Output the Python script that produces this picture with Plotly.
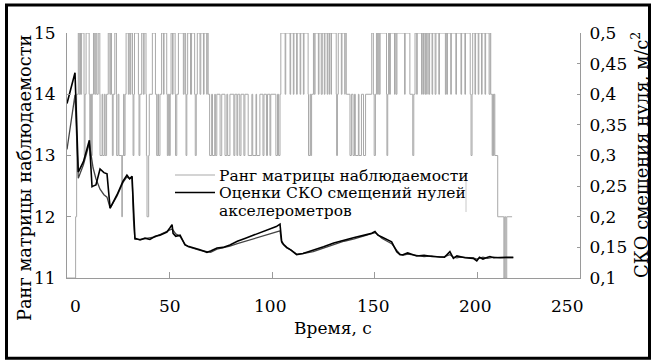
import plotly.graph_objects as go

# ---------------- data ----------------
# Rank of observability matrix (step series)
rank_t = [0.0, 4.2, 4.7, 5.5, 5.9, 6.3, 6.6, 7.1, 8.3, 8.4, 8.8, 9.3, 10.8, 11.1, 11.5, 12.0, 12.3, 12.9,
          13.5, 14.0, 14.5, 15.2, 16.0, 16.1, 17.1, 17.4, 18.2, 18.6, 19.3, 20.1, 20.9, 21.3, 21.7, 22.1,
          22.5, 23.3, 24.1, 24.2, 24.9, 25.3, 26.7, 27.0, 27.6, 27.8, 28.3, 28.8, 29.9, 30.3, 30.8, 31.1,
          31.9, 32.2, 32.6, 32.9, 34.8, 35.1, 35.5, 36.4, 37.2, 37.6, 38.5, 38.7, 39.0, 39.8, 40.1, 41.6,
          43.1, 43.7, 44.3, 44.6, 45.3, 46.1, 47.0, 47.3, 48.6, 48.9, 49.4, 49.9, 50.3, 50.7, 51.4, 51.7,
          52.7, 52.9, 53.5, 54.3, 56.7, 57.1, 57.8, 58.0, 58.4, 58.8, 60.2, 60.7, 62.2, 62.5, 63.0, 63.5,
          64.8, 65.2, 66.5, 66.8, 68.1, 68.3, 68.8, 69.5, 70.5, 70.9, 72.0, 72.3, 73.0, 74.6, 75.4, 77.0,
          77.9, 78.3, 79.4, 81.3, 81.8, 82.8, 83.2, 84.2, 84.8, 86.2, 86.7, 88.3, 90.1, 90.5, 92.1, 92.4,
          94.0, 95.5, 96.0, 97.2, 97.7, 98.9, 99.3, 101.8, 102.6, 103.1, 103.8, 104.2, 106.3, 106.6, 108.7,
          109.0, 110.3, 110.6, 111.9, 112.2, 113.6, 113.9, 115.2, 115.5, 117.5, 117.7, 118.5, 118.8, 119.2,
          120.1, 120.5, 120.9, 122.5, 122.8, 123.9, 124.4, 125.4, 125.7, 126.8, 127.1, 127.8, 128.0, 128.7,
          128.9, 131.2, 131.4, 131.8, 132.2, 133.7, 134.0, 135.4, 135.5, 136.1, 137.9, 138.6, 139.4, 140.1,
          140.5, 142.0, 142.3, 143.5, 144.5, 145.5, 148.5, 149.3, 149.7, 150.3, 150.8, 151.4, 151.7, 152.2,
          152.6, 155.7, 155.9, 156.3, 156.7, 157.2, 157.6, 159.6, 159.9, 160.4, 160.8, 164.5, 164.8, 167.1,
          168.5, 169.0, 169.6, 170.4, 170.7, 172.8, 173.1, 173.7, 173.9, 174.5, 174.8, 175.3, 175.5, 176.3,
          176.7, 177.9, 178.2, 179.4, 179.8, 181.2, 181.5, 184.4, 184.7, 185.1, 185.4, 187.0, 187.3, 189.5,
          189.8, 192.0, 192.3, 193.9, 194.2, 196.5, 196.9, 197.4, 197.7, 198.8, 199.1, 200.4, 200.7, 202.0,
          202.3, 203.7, 204.0, 205.7, 206.2, 206.5, 207.2, 207.5, 207.8, 208.1, 208.5, 209.9, 212.9, 213.3,
          213.8, 214.3, 216.9]
rank_v = [11, 12, 14, 15, 14, 15, 14, 15, 14, 13, 14, 15, 14, 13, 14, 13, 14, 15,
          14, 15, 14, 15, 14, 13, 14, 13, 14, 13, 14, 15, 14, 15, 14, 13,
          14, 15, 14, 13, 14, 13, 12, 13, 14, 13, 14, 15, 14, 15, 14, 15,
          14, 13, 14, 15, 14, 13, 14, 15, 14, 15, 14, 13, 12, 13, 14, 15,
          14, 13, 14, 13, 14, 15, 14, 15, 14, 13, 14, 13, 14, 15, 14, 15,
          14, 13, 14, 15, 14, 15, 14, 13, 14, 15, 14, 15, 14, 13, 14, 15,
          14, 15, 14, 15, 14, 15, 14, 13, 14, 13, 14, 13, 14, 13, 14, 13,
          14, 13, 14, 13, 14, 13, 14, 13, 14, 13, 14, 13, 14, 13, 14, 13,
          14, 13, 14, 13, 14, 13, 14, 13, 14, 13, 14, 15, 14, 15, 14,
          15, 14, 15, 14, 15, 14, 15, 14, 15, 14, 13, 14, 13, 14,
          15, 14, 15, 14, 15, 14, 15, 14, 15, 14, 15, 14, 15, 14,
          15, 14, 13, 14, 15, 14, 15, 14, 15, 14, 13, 14, 13, 14,
          13, 14, 13, 14, 13, 14, 15, 14, 13, 14, 15, 14, 15, 14,
          15, 14, 13, 14, 15, 14, 15, 14, 15, 14, 15, 14, 15, 14,
          13, 14, 15, 14, 15, 14, 15, 14, 15, 14, 15, 14, 15, 14,
          15, 14, 15, 14, 15, 14, 15, 14, 15, 14, 15, 14, 15, 14,
          15, 14, 15, 14, 15, 14, 13, 14, 15, 14, 15, 14, 15, 14,
          15, 14, 15, 14, 15, 14, 13, 14, 13, 14, 13, 12, 11, 12,
          11, 12, 12]

# RMS estimates of accelerometer zero biases (two accelerometers)
est_t = [0.0, 1.9, 3.9, 5.5, 8.0, 10.9, 12.2, 12.7, 14.1, 16.1, 18.0, 19.5, 21.0, 24.4, 27.3, 29.2, 30.5,
         31.7, 32.4, 33.1, 35.6, 38.0, 40.4, 43.0, 45.3, 48.7, 50.2, 51.2, 51.7, 53.0, 55.1, 57.5, 59.0,
         61.4, 64.8, 68.2, 70.0, 73.1, 76.0, 79.4, 83.0, 87.0, 91.0, 95.0, 99.0, 102.0, 103.8, 104.6,
         105.5, 107.1, 109.0, 111.9, 115.0, 120.0, 125.0, 130.0, 135.0, 140.0, 145.0, 148.5, 150.1,
         151.5, 153.4, 156.0, 158.2, 160.7, 162.3, 163.7, 166.0, 170.4, 174.0, 178.0, 181.8, 184.0,
         186.6, 188.3, 190.0, 191.5, 194.0, 198.0, 199.7, 201.0, 202.7, 205.0, 206.1, 208.0, 211.0,
         214.0, 217.5]
est_1 = [0.385, 0.410, 0.435, 0.273, 0.290, 0.325, 0.249, 0.250, 0.252, 0.278, 0.272, 0.270, 0.214,
         0.236, 0.258, 0.268, 0.262, 0.266, 0.200, 0.165, 0.162, 0.165, 0.163, 0.168, 0.170, 0.175,
         0.182, 0.187, 0.173, 0.168, 0.170, 0.154, 0.152, 0.149, 0.146, 0.142, 0.144, 0.149, 0.150,
         0.154, 0.160, 0.165, 0.170, 0.175, 0.180, 0.184, 0.188, 0.160, 0.155, 0.150, 0.146, 0.138,
         0.140, 0.145, 0.151, 0.157, 0.162, 0.166, 0.170, 0.173, 0.176, 0.170, 0.167, 0.162, 0.159,
         0.143, 0.138, 0.138, 0.141, 0.136, 0.137, 0.135, 0.135, 0.134, 0.143, 0.132, 0.136, 0.135,
         0.133, 0.132, 0.128, 0.134, 0.131, 0.134, 0.135, 0.133, 0.134, 0.134, 0.134]
est_2 = [0.310, 0.355, 0.399, 0.263, 0.285, 0.320, 0.285, 0.280, 0.262, 0.245, 0.236, 0.232, 0.214,
         0.234, 0.256, 0.265, 0.262, 0.264, 0.195, 0.163, 0.163, 0.164, 0.166, 0.167, 0.171, 0.176,
         0.178, 0.180, 0.178, 0.172, 0.168, 0.155, 0.151, 0.148, 0.145, 0.143, 0.142, 0.147, 0.149,
         0.152, 0.156, 0.160, 0.164, 0.168, 0.172, 0.175, 0.177, 0.158, 0.154, 0.149, 0.146, 0.139,
         0.140, 0.143, 0.149, 0.154, 0.160, 0.164, 0.169, 0.172, 0.174, 0.171, 0.165, 0.160, 0.156,
         0.145, 0.139, 0.137, 0.139, 0.137, 0.135, 0.136, 0.134, 0.135, 0.138, 0.134, 0.133, 0.134,
         0.134, 0.133, 0.131, 0.132, 0.134, 0.132, 0.133, 0.134, 0.133, 0.133, 0.133]

x_ticks = [0, 50, 100, 150, 200, 250]
x_tick_labels = ['0', '50', '100', '150', '200', '250']
x_label_pos = [3.9, 50, 99, 149, 199, 243.7]
y1_ticks = [11, 12, 13, 14, 15]
y2_ticks = [0.1, 0.15, 0.2, 0.25, 0.3, 0.35, 0.4, 0.45, 0.5]
y2_tick_labels = ['0,1', '0,15', '0,2', '0,25', '0,3', '0,35', '0,4', '0,45', '0,5']

x_title = 'Время, с'
y1_title = 'Ранг матрицы наблюдаемости'
y2_title = 'СКО смещения нуля, м/с<sup>2</sup>'
legend_lines = ['Ранг матрицы наблюдаемости', 'Оценки СКО смещений нулей', 'акселерометров']

FONT = 'DejaVu Serif'
AX = '#9a9a9a'
RANK_COLOR = '#a9a9a9'
TICK_SIZE = 17
LEG_SIZE = 15.5

fig = go.Figure()
fig.add_trace(go.Scatter(x=rank_t, y=rank_v, mode='lines', line=dict(color=RANK_COLOR, width=1, shape='hv'),
                         name=legend_lines[0], showlegend=False, yaxis='y'))
fig.add_trace(go.Scatter(x=est_t, y=est_2, mode='lines', line=dict(color='#444444', width=1.3),
                         name=legend_lines[1], showlegend=False, yaxis='y2'))
fig.add_trace(go.Scatter(x=est_t, y=est_1, mode='lines', line=dict(color='#000000', width=1.6),
                         name=legend_lines[1], showlegend=False, yaxis='y2'))

W, H = 651, 361
L, R, T, B = 67, 71, 33, 83
pw, ph = W - L - R, H - T - B


def px(xp):
    return (xp - L) / pw


def py(yp):
    return (H - B - yp) / ph


annotations = [dict(x=xv, y=py(306), xref='x', yref='paper', text=tx, showarrow=False,
                    font=dict(family=FONT, size=TICK_SIZE, color='#000'), xanchor='center', yanchor='middle')
               for xv, tx in zip(x_label_pos, x_tick_labels)]

# axis titles
annotations.append(dict(x=px(333), y=py(328), xref='paper', yref='paper', text=x_title, showarrow=False,
                        font=dict(family=FONT, size=17, color='#000'), xanchor='center', yanchor='middle'))
annotations.append(dict(x=px(24), y=py(178), xref='paper', yref='paper', text=y1_title, showarrow=False,
                        textangle=-90, font=dict(family=FONT, size=17.8, color='#000'),
                        xanchor='center', yanchor='middle'))
annotations.append(dict(x=px(640), y=py(155), xref='paper', yref='paper', text=y2_title, showarrow=False,
                        textangle=-90, font=dict(family=FONT, size=18, color='#000'),
                        xanchor='center', yanchor='middle'))

# manual legend text lines
for txt, yy in zip(legend_lines, [175, 192.5, 210]):
    annotations.append(dict(x=px(217), y=py(yy), xref='paper', yref='paper', text=txt, showarrow=False,
                            height=17, valign='middle',
                            font=dict(family=FONT, size=LEG_SIZE, color='#000'), xanchor='left', yanchor='middle'))

fig.update_layout(
    width=W, height=H,
    margin=dict(l=L, r=R, t=T, b=B),
    paper_bgcolor='white', plot_bgcolor='white',
    font=dict(family=FONT, size=TICK_SIZE, color='#000'),
    showlegend=False,
    xaxis=dict(range=[0, 250], tickvals=x_ticks, showticklabels=False, ticks='inside', ticklen=6,
               tickcolor=AX, showline=True, linecolor=AX, linewidth=1, showgrid=False, zeroline=False),
    yaxis=dict(range=[11, 15], tickvals=y1_ticks, ticks='inside', ticklen=4, tickcolor=AX,
               showline=True, linecolor=AX, linewidth=1, showgrid=False, zeroline=False,
               ticklabelstandoff=7, tickfont=dict(family=FONT, size=TICK_SIZE)),
    yaxis2=dict(range=[0.1, 0.5], tickvals=y2_ticks, ticktext=y2_tick_labels, overlaying='y', side='right',
                ticks='inside', ticklen=3, tickcolor=AX, showline=True, linecolor=AX, linewidth=1,
                showgrid=False, zeroline=False, ticklabelstandoff=5, tickfont=dict(family=FONT, size=TICK_SIZE)),
    annotations=annotations,
    shapes=[
        # legend background
        dict(type='rect', xref='paper', yref='paper', x0=px(174), x1=px(466), y0=py(219), y1=py(165),
             line=dict(width=0), fillcolor='white', layer='above'),
        # legend samples
        dict(type='line', xref='paper', yref='paper', x0=px(175), x1=px(215), y0=py(175), y1=py(175),
             line=dict(color=RANK_COLOR, width=1), layer='above'),
        dict(type='line', xref='paper', yref='paper', x0=px(175), x1=px(215), y0=py(192.5), y1=py(192.5),
             line=dict(color='#000000', width=1.6), layer='above'),
        dict(type='line', xref='paper', yref='paper', x0=px(466), x1=px(466), y0=py(212), y1=py(172),
             line=dict(color='#c8c8c8', width=1), layer='above'),
        # outer frame
        dict(type='rect', xref='paper', yref='paper', x0=px(6.5), x1=px(649.5), y0=py(358.3), y1=py(5),
             line=dict(color='black', width=3), fillcolor='rgba(0,0,0,0)'),
    ],
)

fig.write_html('out.html')
